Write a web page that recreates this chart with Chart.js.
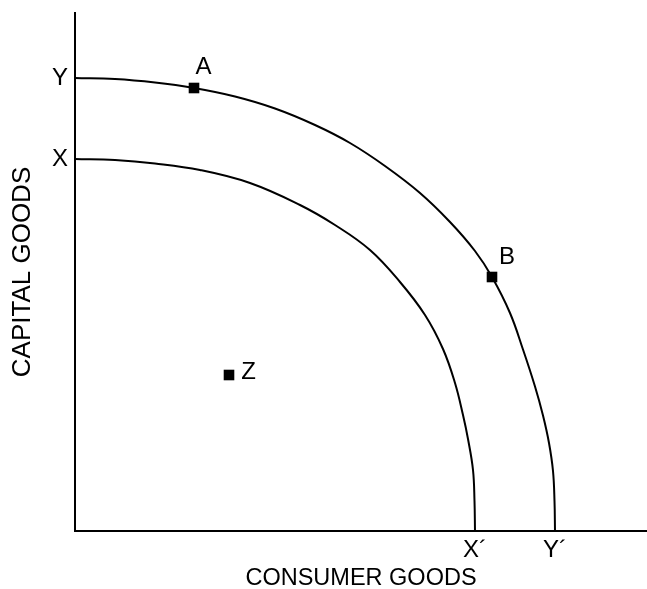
<!DOCTYPE html>
<html><head><meta charset="utf-8">
<script src="https://cdn.jsdelivr.net/npm/chart.js@4"></script>
<style>html,body{margin:0;padding:0;background:#fff}#wrap{width:647px;height:589px;position:relative}</style>
</head><body><div id="wrap"><canvas id="c"></canvas></div>
<script>
const outerX = [0,40,80,119,160,200,240,275,310,345,375,400,417,435,448,460,468,474,478,479.5,480];
const outerY = [453,452,448.5,443,434.5,422.5,406,388,365,338,309,280,254,218,181.5,144.5,115.5,88,60,30,0];
const innerX = [0,40,80,125,175,225,260,295,325,350,368,380,388,393,398,399.5,400];
const innerY = [372,371,367.5,361,348,326,306,281,249,216,182,148,116,92,61,30,0];
const pointNames = ['A','B','Z'];
const pointX = [119,417,154];
const pointY = [443,254,156];
const yTickValues = [372,453];
const yTickLabels = ['X','Y'];
const xTickValues = [400,480];
const xTickLabels = ['X\u00B4','Y\u00B4'];
const xTitle = 'CONSUMER GOODS';
const yTitle = 'CAPITAL GOODS';

const FONT = "'Liberation Sans', Arial, Helvetica, sans-serif";
const labelOffsets = {A:[9.5,-20.5], B:[15,-20], Z:[19.5,-2.5]};

const zip = (xs, ys) => xs.map((x,i)=>({x, y: ys[i]}));

const pointLabelPlugin = {
  id: 'pointLabels',
  afterDatasetsDraw(chart) {
    const meta = chart.getDatasetMeta(2);
    const ctx = chart.ctx;
    ctx.save();
    ctx.fillStyle = '#000';
    ctx.font = '24px ' + FONT;
    ctx.textAlign = 'center';
    ctx.textBaseline = 'middle';
    meta.data.forEach((el, i) => {
      const name = pointNames[i];
      const off = labelOffsets[name];
      ctx.fillText(name, el.x + off[0], el.y + off[1]);
    });
    ctx.restore();
  }
};

const noPadX = s => { s.height = 58; s.paddingLeft = 0; s.paddingRight = 0; };
const noPadY = s => { s.width = 75; s.paddingTop = 0; s.paddingBottom = 0; };

new Chart(document.getElementById('c'), {
  type: 'scatter',
  data: {
    datasets: [
      { data: zip(outerX, outerY), showLine: true, borderColor: '#000', borderWidth: 2,
        pointRadius: 0, tension: 0.4, fill: false },
      { data: zip(innerX, innerY), showLine: true, borderColor: '#000', borderWidth: 2,
        pointRadius: 0, tension: 0.4, fill: false },
      { data: zip(pointX, pointY), showLine: false, pointStyle: 'rect', pointRadius: 7.5,
        backgroundColor: '#000', borderColor: '#000', borderWidth: 0 }
    ]
  },
  options: {
    responsive: true,
    maintainAspectRatio: false,
    animation: false,
    events: [],
    layout: { autoPadding: false, padding: { top: 13, right: 0, left: 0, bottom: 0 } },
    plugins: { legend: { display: false }, tooltip: { enabled: false } },
    scales: {
      x: {
        type: 'linear', min: 0, max: 572,
        grid: { display: false, drawTicks: false },
        border: { display: true, color: '#000', width: 2 },
        afterBuildTicks: s => { s.ticks = xTickValues.map(v => ({ value: v })); },
        afterFit: noPadX,
        ticks: {
          autoSkip: false, maxRotation: 0, padding: 5, color: '#000',
          font: { family: FONT, size: 24 },
          callback: v => xTickLabels[xTickValues.indexOf(v)]
        },
        title: { display: true, text: xTitle, color: '#000',
          font: { family: FONT, size: 23.5, lineHeight: 0.85 }, padding: { top: 0, bottom: 0 } }
      },
      y: {
        type: 'linear', min: 0, max: 518,
        grid: { display: false, drawTicks: false },
        border: { display: true, color: '#000', width: 2 },
        afterBuildTicks: s => { s.ticks = yTickValues.map(v => ({ value: v })); },
        afterFit: noPadY,
        ticks: {
          autoSkip: false, padding: 7, color: '#000',
          font: { family: FONT, size: 24 },
          callback: v => yTickLabels[yTickValues.indexOf(v)]
        },
        title: { display: true, text: yTitle, color: '#000',
          font: { family: FONT, size: 26, lineHeight: 1.2 }, padding: { top: 7, bottom: 0 } }
      }
    }
  },
  plugins: [pointLabelPlugin]
});
</script>
</body></html>
